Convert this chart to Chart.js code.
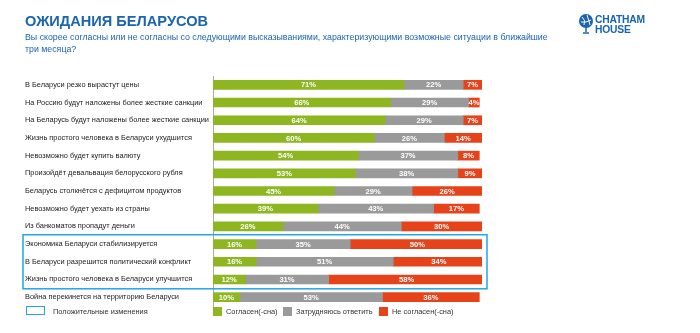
<!DOCTYPE html>
<html><head><meta charset="utf-8">
<script src="https://cdn.jsdelivr.net/npm/chart.js@4/dist/chart.umd.min.js"></script>
<style>
html,body{margin:0;padding:0;background:#fff;}
#wrap{position:relative;width:700px;height:333px;overflow:hidden;font-family:"Liberation Sans",Arial,sans-serif;}
#c{position:absolute;left:0;top:0;}
.t{position:absolute;white-space:nowrap;}
#title{left:25px;top:13px;font-size:14.6px;font-weight:bold;color:#1a64b0;}
#sub{left:25px;top:31px;font-size:8.8px;line-height:12px;color:#1a64b0;}
#logo{left:578px;top:13px;}
#logotext{position:absolute;left:17px;top:2px;font-size:10.3px;line-height:10px;font-weight:bold;color:#1a64b0;letter-spacing:-0.2px;}
.lg{position:absolute;font-size:7.4px;color:#333;top:306.5px;line-height:10px;}
.sq{position:absolute;top:307px;width:9px;height:9px;}
</style></head>
<body><div id="wrap">
<canvas id="c" width="700" height="333"></canvas>
<div class="t" id="title">ОЖИДАНИЯ БЕЛАРУСОВ</div>
<div class="t" id="sub">Вы скорее согласны или не согласны со следующими высказываниями, характеризующими возможные ситуации в ближайшие<br>три месяца?</div>
<div class="t" id="logo">
<svg width="16" height="22" viewBox="0 0 16 22"><circle cx="8" cy="8" r="7" fill="#1a64b0"/><path d="M4 4 Q8 7 6 12 M9 2 Q11 8 12 12 M3 9 Q8 10 13 7" stroke="#fff" stroke-width="1" fill="none"/><path d="M8 15 L8 19 M5 20 L11 20" stroke="#1a64b0" stroke-width="1.5"/></svg>
<div id="logotext">CHATHAM<br>HOUSE</div>
</div>
<div style="position:absolute;left:26px;top:306px;width:17px;height:7px;border:1.5px solid #22a6e2;"></div>
<div class="lg" style="left:53px;">Положительные изменения</div>
<div class="sq" style="left:213px;background:#8db620;"></div>
<div class="lg" style="left:226px;">Согласен(-сна)</div>
<div class="sq" style="left:283px;background:#9a9a9a;"></div>
<div class="lg" style="left:296px;">Затрудняюсь ответить</div>
<div class="sq" style="left:379px;background:#e6431b;"></div>
<div class="lg" style="left:392px;">Не согласен(-сна)</div>
</div>
<script>
const categories = [
 "В Беларуси резко вырастут цены",
 "На Россию будут наложены более жесткие санкции",
 "На Беларусь будут наложены более жесткие санкции",
 "Жизнь простого человека в Беларуси ухудшится",
 "Невозможно будет купить валюту",
 "Произойдёт девальвация белорусского рубля",
 "Беларусь столкнётся с дефицитом продуктов",
 "Невозможно будет уехать из страны",
 "Из банкоматов пропадут деньги",
 "Экономика Беларуси стабилизируется",
 "В Беларуси разрешится политический конфликт",
 "Жизнь простого человека в Беларуси улучшится",
 "Война перекинется на территорию Беларуси"
];
const agree    = [71,66,64,60,54,53,45,39,26,16,16,12,10];
const unsure   = [22,29,29,26,37,38,29,43,44,35,51,31,53];
const disagree = [7,4,7,14,8,9,26,17,30,50,34,58,36];
const seriesNames = ["Согласен(-сна)","Затрудняюсь ответить","Не согласен(-сна)"];
const positiveRows = [9,10,11];

const labelPlugin = {
  id:'lbl',
  afterDatasetsDraw(chart){
    const ctx = chart.ctx;
    ctx.save();
    ctx.font = 'bold 7.6px "Liberation Sans", Arial, sans-serif';
    ctx.fillStyle = '#fff';
    ctx.textAlign = 'center';
    ctx.textBaseline = 'middle';
    chart.data.datasets.forEach((ds,di)=>{
      const meta = chart.getDatasetMeta(di);
      meta.data.forEach((bar,i)=>{
        const cx = (bar.x + bar.base)/2;
        ctx.fillText(ds.data[i]+'%', cx, bar.y+0.5);
      });
    });
    const y = chart.scales.y;
    const half = (y.getPixelForValue(1)-y.getPixelForValue(0))/2;
    const top = y.getPixelForValue(positiveRows[0]) - half - 0.5;
    const bot = y.getPixelForValue(positiveRows[positiveRows.length-1]) + half + 0.5;
    ctx.strokeStyle = '#22a6e2';
    ctx.lineWidth = 1.5;
    ctx.strokeRect(23, top, chart.chartArea.right + 5 - 23, bot - top);
    ctx.restore();
  }
};

new Chart(document.getElementById('c'), {
  type:'bar',
  data:{
    labels: categories,
    datasets:[
      {label:seriesNames[0], data:agree, backgroundColor:'#8db620', barThickness:9},
      {label:seriesNames[1], data:unsure, backgroundColor:'#9a9a9a', barThickness:9},
      {label:seriesNames[2], data:disagree, backgroundColor:'#e6431b', barThickness:9}
    ]
  },
  options:{
    indexAxis:'y',
    responsive:false,
    animation:false,
    devicePixelRatio:1,
    layout:{padding:{left:25, right:218, top:76, bottom:27}},
    plugins:{legend:{display:false}, tooltip:{enabled:false}},
    scales:{
      x:{stacked:true, min:0, max:100, display:false},
      y:{stacked:true,
         grid:{display:false, drawTicks:false},
         border:{display:true, color:'#aaaaaa', width:1},
         afterFit(s){ s.width = 188; },
         ticks:{crossAlign:'far', padding:0, color:'#222', font:{family:'"Liberation Sans", Arial, sans-serif', size:7.4}}
      }
    }
  },
  plugins:[labelPlugin]
});
</script>
</body></html>
